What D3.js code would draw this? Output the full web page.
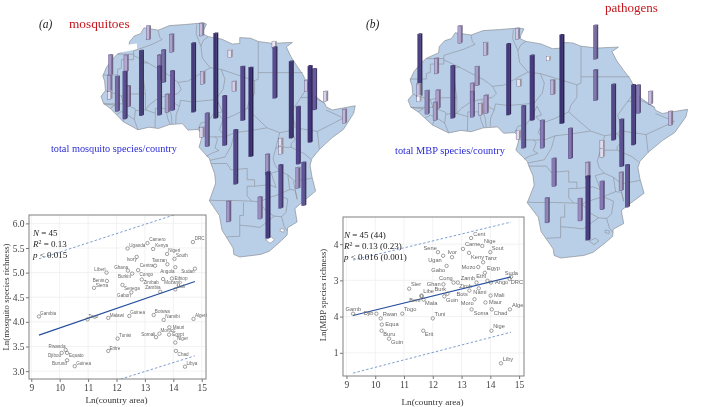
<!DOCTYPE html>
<html>
<head>
<meta charset="utf-8">
<script src="https://d3js.org/d3.v7.min.js"></script>
<style>
  html, body { margin: 0; padding: 0; background: #fff; }
  svg { display: block; filter: blur(0.3px); }
  .serif { font-family: "Liberation Serif", serif; }
  .tick text { font-family: "Liberation Serif", serif; font-size: 9.5px; fill: #444; }
  .tick line { stroke: #777; }
  .domain { display: none; }
</style>
</head>
<body>
<svg id="fig" width="701" height="407"></svg>
<script>
// africa coast, lon/lat
const coast = [[-5.9,35.8],[-2,35.1],[1,36.5],[5,36.8],[9.8,37.3],[11,37],[10.2,35],[10.1,33.9],[11.5,33.1],[15.2,32.3],[18,30.8],[20,31],[20,32.8],[23,32.6],[25,31.6],[29,31],[32,31.2],[34.2,31.3],[32.6,29.9],[33.8,27],[35.5,24],[37,21.5],[38.5,18],[39.5,15.5],[43,12.5],[43.3,11.5],[45,10.5],[51.2,11.8],[50.8,9.5],[48,4.5],[45,2],[41.5,-1.7],[39.5,-4.5],[39,-6.5],[39.5,-10],[40.5,-14.5],[37,-17.8],[34.9,-19.9],[35.5,-24],[32.9,-25.8],[32.8,-28],[31,-30],[28,-33],[25.7,-34],[20,-34.8],[18.4,-34],[18.2,-32],[15.2,-26.5],[14.5,-22],[11.8,-17.5],[13.5,-12],[13.2,-9],[12.2,-6],[11.8,-4.5],[9,-1],[9.5,1],[9.8,3.2],[8.7,4.5],[6,4.3],[4.5,6.3],[1,6],[-2,4.8],[-4.5,5.2],[-7.5,4.4],[-11.5,6.9],[-13.3,9],[-15,11],[-16.8,12.5],[-17.5,14.7],[-16.3,16.5],[-16.5,19.3],[-17,21],[-16,23.7],[-14.5,26],[-13,27.8],[-10,29.5],[-9.8,31.5],[-8.5,33.3],[-6.8,34]];

const borders = [
  [[-2,35.1],[-1.7,33],[-1,32.2],[-3.7,30.7],[-8.7,28.7],[-8.7,27.3]],
  [[-8.7,27.7],[-13,27.7]],
  [[-8.7,27.3],[-8.7,26],[-12,26],[-12,23.4],[-13,23],[-13,21.3],[-17,21.3]],
  [[-8.7,27.3],[-4.8,25],[-6.6,25],[-5.5,15.5],[-10,15.4],[-12,14.8],[-16.3,16.5]],
  [[8.4,36.9],[8.2,34],[9.5,30.2],[9.9,26.5],[12,23.5]],
  [[11.5,33.1],[10.2,32],[9.5,30.2]],
  [[-4.8,25],[1.2,21],[3.3,19],[6,19.4],[12,23.5],[15,23],[24,19.5],[25,20],[25,22]],
  [[25,31.6],[25,22],[37,22]],
  [[15,23],[16,20],[15.5,16.9],[13.5,13.7]],
  [[3.3,19],[4.2,16.8],[3.2,15.5],[0.3,14.9],[2.8,12.2],[3.7,11.7],[4,13.5],[7,13],[10,13.3],[13.5,13.7]],
  [[-5.5,15.5],[-5.5,10.5],[-4.5,12],[-2,14.2],[0.3,14.9]],
  [[-12,14.8],[-11.4,12.4],[-8.3,10.9],[-8.2,10.3],[-6.2,10.5],[-5.5,10.5]],
  [[-16.8,12.4],[-11.4,12.4]],
  [[-16.8,12.4],[-13.7,12],[-15,11]],
  [[-13.3,9.1],[-12,10],[-10.7,9.3],[-11.5,6.9]],
  [[-7.5,4.4],[-8.5,7.5],[-8.2,10.3]],
  [[-10.7,9.3],[-8.5,7.5]],
  [[-2.9,5],[-2.8,9.5],[-5.5,10.5]],
  [[-2.8,9.5],[-2.8,11],[0,11],[0.9,11],[2.4,11.9]],
  [[1.2,6],[0.5,8],[0,11]],
  [[1.7,6.2],[1.5,9],[0.9,11]],
  [[2.7,6.3],[2.8,9],[3.7,11.7]],
  [[8.7,4.5],[9.5,6.5],[11.5,7],[13,9.5],[14.2,12.8]],
  [[14.2,12.8],[15.3,10],[13.9,9.5],[15.5,7.5],[18.5,8.9],[22,11]],
  [[24,19.5],[24,15.5],[22.5,13],[22,11],[24,8.7],[27.4,5]],
  [[18.6,3.5],[22,4],[27.4,5]],
  [[15.5,7.5],[14.5,4.5],[16,2.2]],
  [[9.8,2.3],[13.3,2.2],[16,2.2],[18.6,3.5]],
  [[13.3,2.2],[14,1.5],[13.3,-1.2],[14.4,-2],[12.5,-2.8],[11,-3.8]],
  [[12,-5],[16,-4],[17.7,-0.5],[18.6,3.5]],
  [[12.2,-6],[16.5,-6],[17.7,-8],[22,-7.5],[22,-11],[24,-11],[24,-13],[28,-12.5],[29.8,-13.4],[28.5,-9],[30.7,-8.2]],
  [[27.4,5],[30.8,3.5],[29.7,-1.4],[29,-4.4],[29.5,-6.5],[30.7,-8.2],[33,-9.5]],
  [[30.8,3.5],[34,4.2],[35,1.5],[33.9,0.1],[33.9,-1],[30.5,-1],[29.7,-1.4]],
  [[38.6,18],[36.5,14.3],[34,10],[35,5.5],[34,4.2]],
  [[36.5,14.3],[40,14.5],[43,12.5]],
  [[35,5],[41,3.9],[48,8],[43.3,10.5]],
  [[41,3.9],[41.5,-1.7]],
  [[33.9,-1],[37.5,-3],[39.2,-4.7]],
  [[39.5,-10.5],[34.9,-11.5],[33,-9.5],[33.5,-14],[35,-14.2],[35.5,-17],[34.5,-11.5]],
  [[33.5,-14],[30.4,-15.6],[28,-16.5],[25.3,-17.8],[23.3,-17.6]],
  [[24,-13],[22,-13],[22,-16],[23.3,-17.6]],
  [[11.8,-17.3],[14,-17.4],[18.5,-17.4],[23.3,-17.6]],
  [[21,-18],[21,-22],[20,-22],[20,-28.4],[16.5,-28.6]],
  [[25.3,-17.8],[27,-20.5],[29.3,-22.2]],
  [[20,-25],[23,-25.3],[25.5,-25.7],[29.3,-22.2]],
  [[30.4,-15.6],[33,-17],[32.5,-21],[31.3,-22.4],[29.3,-22.2]],
  [[31.3,-22.4],[32,-25.5],[32.9,-26.8]]
];

const lesotho = [[27,-29.5],[28.5,-28.6],[29.4,-29.5],[28.2,-30.6]];
const swazi = [[31,-26],[32,-26.3],[31.9,-27.2],[30.9,-26.8]];
// the piece of sea cut out of the first map
const notch = [[-14.5,30],[-7.8,31],[-7.7,29.2],[-13.6,27.9],[-15.7,25.5],[-19,25],[-19,30]];

// lon, lat at the foot of the bar, species count
const mosquitoBars = [[-4.7,32.1,42],[9.7,33.3,38],[1.6,28.2,55],[7.5,9.8,207],[13.5,7.9,255],[17.4,26.6,23],[29.3,29.5,20],[29.5,14.1,153],[-14.9,21.3,60],[-10.7,22.3,50],[-15.1,16.1,50],[-15.1,13.8,23],[-13.1,10,105],[-11,7.7,142],[-10.1,11.5,62],[-6.6,8.7,195],[-0.6,18.9,98],[-1.7,19.7,75],[-1.7,8.9,147],[1.8,10.3,119],[0.4,9.7,55],[10,18.4,38],[18.5,16.1,32],[20.8,7.2,162],[23,-3.9,267],[33.9,1.8,230],[39,0.5,229],[40.2,10.5,123],[38.1,16.1,35],[43.2,13.1,30],[48.3,6.4,42],[11.2,-0.8,100],[9.8,2.1,30],[15.9,-0.5,149],[18.9,-12.4,163],[35.8,-6.2,172],[31.1,-0.8,25],[31.1,-3.2,25],[27.5,-9.5,62],[27.6,-29,198],[31.1,-19.8,130],[35.7,-13.7,62],[37.3,-19,130],[17,-24,62],[25.5,-23.1,66]];

const mbpBars = [[-4.7,32.5,52],[9.4,33.7,33],[-14.6,15.8,187],[1.6,28.6,39],[7.2,10,213],[13,8.3,195],[20.3,7.3,266],[28.6,27.5,101],[17,27,13],[-10.5,22.9,47],[-6.5,9,157],[-0.5,19.2,57],[9.8,18.9,22],[18.1,16.4,44],[28.6,14.5,92],[33,2.1,167],[37.9,0.6,180],[39.1,10.5,85],[42.1,13.4,38],[47,6.7,42],[-14.8,15.8,38],[-14.8,14.2,17],[-12.8,10.3,70],[-10.1,12.1,55],[-10.8,8.3,55],[-1.7,14.2,55],[-1.7,9.3,77],[0.4,10,35],[1.7,10.5,55],[10.9,-0.4,127],[15.5,-0.4,83],[9.6,2.4,26],[22.4,-3.7,91],[35,-6.2,142],[30.2,-0.6,25],[30.2,-3.2,25],[18.4,-12.4,84],[26.7,-9.8,48],[26.7,-29.2,192],[30.2,-19.7,85],[34.9,-13.7,55],[36.4,-18.9,127],[16.7,-23.8,75],[24.8,-23.2,67]];

// name, ln area, ln richness, then where the name sits in the same units
const mosquitoPts = [["Gambia",9.27,4.11,9.31,4.17],["Togo",10.98,4.05,11.01,4.12],["Malawi",11.71,4.08,11.76,4.14],["Guinea",12.45,4.12,12.48,4.19],["Botswa",13.31,4.14,13.35,4.21],["Namibi",13.66,4.04,13.72,4.11],["Algeri",14.71,4.06,14.76,4.13],["Rwanda",10.21,3.43,9.61,3.5],["Djibou",10.07,3.37,9.59,3.31],["Equato",10.26,3.37,10.33,3.31],["Burund",10.26,3.22,9.73,3.15],["Guinea",10.53,3.1,10.58,3.16],["Eritre",11.71,3.41,11.75,3.47],["Tunisi",12.04,3.66,12.09,3.73],["Somali",13.39,3.69,12.87,3.75],["Morocc",13.51,3.76,13.55,3.82],["Mauri",13.86,3.89,13.98,3.89],["Egypt",13.85,3.74,13.96,3.75],["Niger",14.07,3.58,14.13,3.66],["Chad",14.09,3.41,14.15,3.34],["Libya",14.41,3.09,14.46,3.16],["DRC",14.69,5.62,14.75,5.7],["Camero",13.09,5.6,13.15,5.67],["Uganda",12.39,5.49,12.45,5.56],["Kenya",13.29,5.48,13.36,5.55],["Nigeri",13.78,5.38,13.82,5.45],["South",14.04,5.28,14.09,5.34],["Ivory",12.71,5.32,12.36,5.26],["Tanzan",13.79,5.17,13.25,5.24],["Centra",13.36,5.14,12.82,5.14],["Sudan",14.76,5.08,14.28,5.02],["Angola",14.07,5.11,13.54,5.03],["Liberi",11.65,5,11.22,5.07],["Ghana",12.4,5.04,11.92,5.11],["Burkin",12.55,4.98,12.05,4.92],["Congo",12.76,5.05,12.81,4.97],["Benin",11.66,4.83,11.16,4.84],["Sierra",11.21,4.69,11.27,4.75],["Senega",12.21,4.75,12.26,4.68],["Gabon",12.52,4.6,12.02,4.54],["Zimbab",12.89,4.86,12.95,4.81],["Zambia",13.54,4.61,13.01,4.69],["Ethiop",13.95,4.88,14.04,4.89],["Mozamb",13.64,4.87,13.68,4.81],["Mali",14.07,4.66,14.11,4.72]];

const mbpPts = [["Cent",13.33,4.17,13.41,4.28],["Nige",13.72,3.95,13.78,4.07],["Carne",13.05,3.87,13.12,3.98],["Sout",14,3.78,14.05,3.89],["Sene",12.18,3.78,11.68,3.89],["Ugan",12.36,3.68,11.84,3.55],["Ivor",12.67,3.64,12.51,3.76],["Keny",13.26,3.76,13.33,3.63],["Tanz",13.75,3.5,13.81,3.61],["Gabo",12.48,3.4,11.95,3.28],["Mozo",13.58,3.37,13,3.37],["Egyp",13.81,3.21,13.88,3.34],["Suda",14.72,3.1,14.5,3.2],["Ethi",13.9,2.99,13.51,3.1],["Zamb",13.52,2.94,12.97,3.06],["Cong",12.72,2.94,12.22,3.06],["Zimb",12.87,2.94,12.92,2.83],["Ango",14.02,2.94,14.16,2.94],["DRC",14.67,3.04,14.71,2.94],["Ghan",12.37,2.89,11.79,2.89],["Sier",11.18,2.77,11.24,2.89],["Libe",11.61,2.58,11.67,2.69],["Burk",12.51,2.63,12.06,2.75],["Nami",13.6,2.78,13.41,2.66],["Mali",14.01,2.58,14.13,2.58],["Bots",13.27,2.72,12.82,2.6],["Beni",11.61,2.56,11.18,2.46],["Guin",12.4,2.56,12.46,2.45],["Mala",11.68,2.47,11.73,2.37],["Moro",13.45,2.48,12.97,2.37],["Maur",13.83,2.39,13.95,2.39],["Togo",10.94,2.08,11,2.21],["Gamb",9.23,2.08,8.97,2.2],["Djib",10.04,2.08,9.6,2.08],["Rwan",10.19,1.95,10.26,2.05],["Equa",10.23,1.78,10.35,1.78],["Tuni",12,1.95,12.06,2.06],["Soma",13.35,2.2,13.42,2.09],["Chad",14.05,2.2,14.12,2.09],["Alge",14.68,2.2,14.75,2.32],["Buru",10.22,1.61,10.28,1.5],["Guin",10.48,1.39,10.55,1.28],["Erit",11.67,1.61,11.72,1.5],["Nige",14.04,1.61,14.1,1.73],["Liby",14.37,0.71,14.43,0.82]];

// fit lines, ends of each in data units
const mosquitoFit = [[9.27,3.73],[14.76,4.82]];
const mosquitoUpper = [[9.27,5.28],[14.76,6.31]];
const mosquitoLower = [[9.27,2.32],[14.76,3.31]];
const mbpFit = [[9.23,2.03],[14.72,3.1]];
const mbpUpper = [[9.23,3.56],[14.72,4.61]];
const mbpLower = [[9.23,0.44],[14.72,1.57]];

const mosquitoYTicks = [3,3.5,4,4.5,5,5.5,6];
const mbpYTicks = [1,2,3,4];
const mbpYLabels = {1:"1",2:"4",3:"3",4:"4"};
const xTicks = [9,10,11,12,13,14,15];

const svg = d3.select("#fig");

const barColor = d3.scaleLinear()
  .domain([15,40,70,130,200,270])
  .range(["#f7f6fb","#c4b9d9","#9587bd","#62549b","#473b80","#3a3072"]);

drawMap({
  lon: d3.scaleLinear().domain([-17.5,51.2]).range([101,355.2]),
  lat: d3.scaleLinear().domain([37.3,-34.8]).range([23,257]),
  bars: mosquitoBars, cut: true
});
drawMap({
  lon: d3.scaleLinear().domain([-17.5,51.2]).range([408,687.6]),
  lat: d3.scaleLinear().domain([37.3,-34.8]).range([28,258]),
  bars: mbpBars, cut: false
});

drawScatter({
  box: [29,206,215,379], xDom: [8.92,15.15], yDom: [2.84,6.17],
  yTicks: mosquitoYTicks, yFmt: d3.format(".1f"),
  pts: mosquitoPts, fit: mosquitoFit, upper: mosquitoUpper, lower: mosquitoLower,
  xLabelY: 403, yLabelX: 9, yLabelCy: 297, yLabel: "Ln(mosquito species richness)", yLabelSize: 8.8,
  stats: ["45","0.13","0.015"], statX: 33, id: "a", nameSize: 4.6
});
drawScatter({
  box: [343,524,217,376], xDom: [8.88,15.17], yDom: [0.36,4.75],
  yTicks: mbpYTicks, yFmt: d => mbpYLabels[d],
  pts: mbpPts, fit: mbpFit, upper: mbpUpper, lower: mbpLower,
  xLabelY: 405, yLabelX: 326, yLabelCy: 295, yLabel: "Ln(MBP species richness)", yLabelSize: 8.8,
  stats: ["45 (44)","0.13 (0.23)","0.016 (0.001)"], statX: 344, id: "b", nameSize: 5.7
});

// captions
addText(39, 28, "(a)", 11.5, "#222", "italic");
addText(69, 28, "mosquitoes", 13.3, "#c4161c");
addText(366, 28, "(b)", 11.5, "#222", "italic");
addText(605, 12, "pathogens", 13, "#c4161c");
addText(51, 152, "total mosquito species/country", 10.3, "#2b2bd6");
addText(395, 154, "total MBP species/country", 10.4, "#2b2bd6");

function addText(x, y, str, size, color, style) {
  svg.append("text").attr("class", "serif")
    .attr("x", x).attr("y", y)
    .attr("font-size", size).attr("fill", color)
    .attr("font-style", style || "normal")
    .text(str);
}

function drawMap(m) {
  const g = svg.append("g");
  const line = d3.line().x(d => m.lon(d[0])).y(d => m.lat(d[1]));
  const closed = d3.line().x(d => m.lon(d[0])).y(d => m.lat(d[1])).curve(d3.curveLinearClosed);

  g.append("path").attr("d", closed(coast))
    .attr("fill", "#b9cfe8").attr("stroke", "#8b8f96").attr("stroke-width", 0.7);
  if (m.cut) g.append("path").attr("d", closed(notch)).attr("fill", "#fff");

  g.selectAll("path.border")
    .data(borders)
    .join("path")
    .attr("class", "border")
    .attr("d", line)
    .attr("fill", "none").attr("stroke", "#8b8f96").attr("stroke-width", 0.6);

  g.selectAll("path.small")
    .data([lesotho, swazi])
    .join("path")
    .attr("class", "small")
    .attr("d", closed)
    .attr("fill", m.cut ? "#fff" : "#b9cfe8")
    .attr("stroke", "#8b8f96").attr("stroke-width", 0.6);

  // bars stand on the map, the ones further south go in front
  const h = v => v / 3;
  const bars = m.bars.slice().sort((a, b) => d3.descending(a[1], b[1]));
  const bar = g.selectAll("g.bar").data(bars).join("g").attr("class", "bar")
    .attr("transform", d => `translate(${m.lon(d[0]) - 2.2},${m.lat(d[1])})`);

  bar.append("rect")
    .attr("x", 0).attr("y", d => -h(d[2]))
    .attr("width", 3.2).attr("height", d => h(d[2]))
    .attr("fill", d => barColor(d[2]))
    .attr("stroke", "#3a3068").attr("stroke-width", 0.3);
  bar.append("path")
    .attr("d", d => `M3.2,0L4.8,-1L4.8,${-h(d[2]) - 1}L3.2,${-h(d[2])}Z`)
    .attr("fill", d => d3.color(barColor(d[2])).darker(1.2));
  bar.append("path")
    .attr("d", d => `M0,${-h(d[2])}L1.6,${-h(d[2]) - 1}L4.8,${-h(d[2]) - 1}L3.2,${-h(d[2])}Z`)
    .attr("fill", d => d3.color(barColor(d[2])).darker(0.5));
}

function drawScatter(p) {
  const [left, right, top, bottom] = p.box;
  const x = d3.scaleLinear().domain(p.xDom).range([left, right]);
  const y = d3.scaleLinear().domain(p.yDom).range([bottom, top]);
  const g = svg.append("g");

  g.append("rect").attr("x", left).attr("y", top)
    .attr("width", right - left).attr("height", bottom - top).attr("fill", "#fff");

  g.selectAll("line.gx").data(xTicks).join("line").attr("class", "gx")
    .attr("x1", d => x(d)).attr("x2", d => x(d)).attr("y1", top).attr("y2", bottom)
    .attr("stroke", "#ececec").attr("stroke-width", 0.7);
  g.selectAll("line.gy").data(p.yTicks).join("line").attr("class", "gy")
    .attr("y1", d => y(d)).attr("y2", d => y(d)).attr("x1", left).attr("x2", right)
    .attr("stroke", "#ececec").attr("stroke-width", 0.7);

  g.append("g").attr("transform", `translate(0,${bottom})`)
    .call(d3.axisBottom(x).tickValues(xTicks).tickFormat(d3.format("d")).tickSize(3).tickPadding(2));
  g.append("g").attr("transform", `translate(${left},0)`)
    .call(d3.axisLeft(y).tickValues(p.yTicks).tickFormat(p.yFmt).tickSize(3).tickPadding(1.5));

  g.append("clipPath").attr("id", "clip" + p.id).append("rect")
    .attr("x", left - 3).attr("y", top).attr("width", right - left + 6).attr("height", bottom - top);
  const plot = g.append("g").attr("clip-path", `url(#clip${p.id})`);

  const line = d3.line().x(d => x(d[0])).y(d => y(d[1]));
  plot.append("path").attr("d", line(p.upper)).attr("fill", "none")
    .attr("stroke", "#5f86c4").attr("stroke-width", 0.8).attr("stroke-dasharray", "2.5,2");
  plot.append("path").attr("d", line(p.lower)).attr("fill", "none")
    .attr("stroke", "#5f86c4").attr("stroke-width", 0.8).attr("stroke-dasharray", "2.5,2");
  plot.append("path").attr("d", line(p.fit)).attr("fill", "none")
    .attr("stroke", "#27509f").attr("stroke-width", 1.2);

  plot.selectAll("circle").data(p.pts).join("circle")
    .attr("cx", d => x(d[1])).attr("cy", d => y(d[2])).attr("r", 1.7)
    .attr("fill", "none").attr("stroke", "#555").attr("stroke-width", 0.55);

  plot.selectAll("text").data(p.pts).join("text")
    .attr("x", d => x(d[3])).attr("y", d => y(d[4]) + 1.6)
    .attr("font-family", "Liberation Sans, sans-serif")
    .attr("font-size", p.nameSize).attr("fill", "#666")
    .text(d => d[0]);

  g.append("rect").attr("x", left).attr("y", top)
    .attr("width", right - left).attr("height", bottom - top)
    .attr("fill", "none").attr("stroke", "#808080").attr("stroke-width", 1);

  // fit statistics
  const stat = g.append("text").attr("class", "serif").attr("font-size", 9).attr("fill", "#222");
  const l1 = stat.append("tspan").attr("x", p.statX).attr("y", top + 21);
  l1.append("tspan").attr("font-style", "italic").text("N");
  l1.append("tspan").text(" = " + p.stats[0]);
  const l2 = stat.append("tspan").attr("x", p.statX).attr("y", top + 32);
  l2.append("tspan").attr("font-style", "italic").text("R");
  l2.append("tspan").attr("font-size", 6).attr("dy", -3).text("2");
  l2.append("tspan").attr("dy", 3).text(" = " + p.stats[1]);
  const l3 = stat.append("tspan").attr("x", p.statX).attr("y", top + 43);
  l3.append("tspan").attr("font-style", "italic").text("p");
  l3.append("tspan").text(" < " + p.stats[2]);

  g.append("text").attr("class", "serif")
    .attr("x", (left + right) / 2 - 1).attr("y", p.xLabelY)
    .attr("text-anchor", "middle").attr("font-size", 9.2).attr("fill", "#333")
    .text("Ln(country area)");
  g.append("text").attr("class", "serif")
    .attr("transform", `translate(${p.yLabelX},${p.yLabelCy}) rotate(-90)`)
    .attr("text-anchor", "middle").attr("font-size", p.yLabelSize).attr("fill", "#333")
    .text(p.yLabel);
}
</script>
</body>
</html>
